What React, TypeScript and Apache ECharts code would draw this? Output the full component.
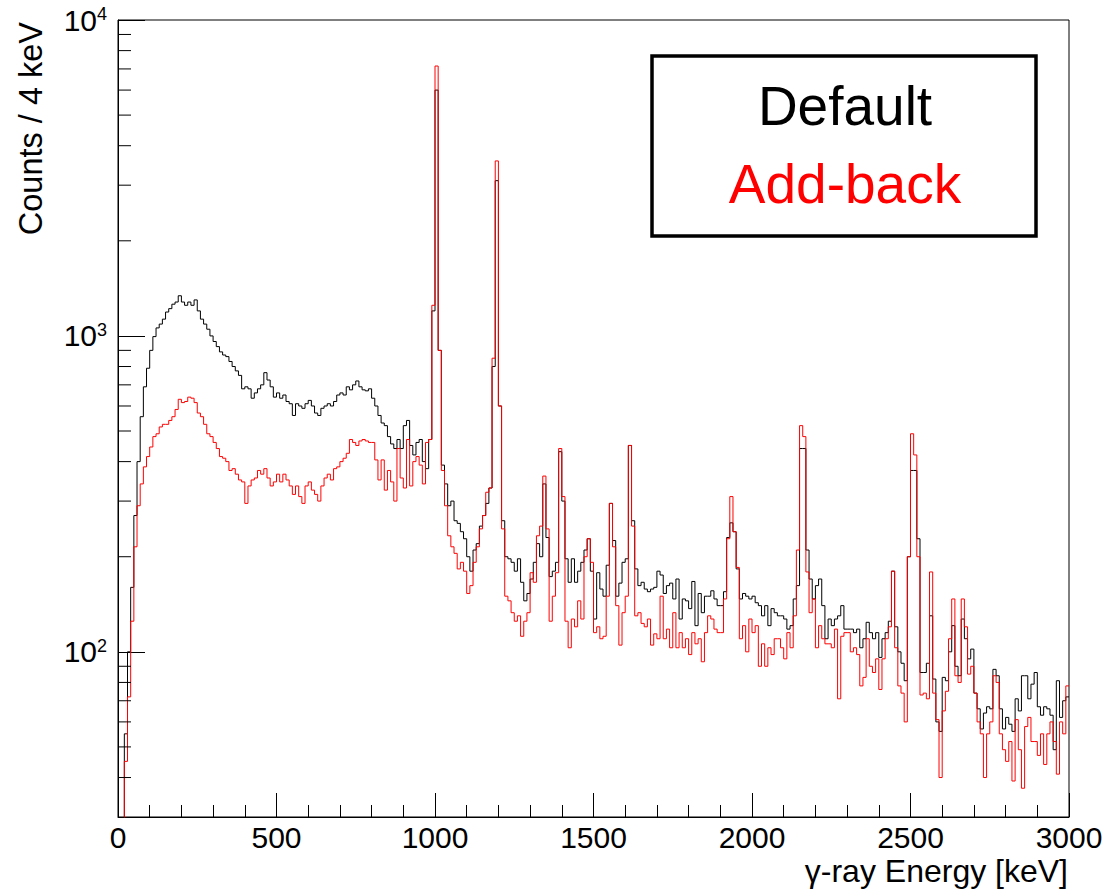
import React, { useEffect, useRef } from "react";
import * as echarts from "echarts";

// Spectrum: counts per bin, bins of 10 keV starting at 0 keV (values read at the "Counts / 4 keV" level)
const binWidth = 10;
const energyMax = 3000;

const defaultCounts = [
  1, 1, 55, 100, 160, 270, 400, 555, 690, 790,
  900, 995, 1060, 1090, 1130, 1190, 1220, 1260, 1280, 1340,
  1280, 1250, 1280, 1250, 1300, 1200, 1130, 1090, 1050, 1000,
  960, 925, 890, 870, 860, 830, 800, 775, 750, 680,
  690, 680, 635, 660, 680, 700, 765, 725, 690, 640,
  660, 635, 650, 620, 610, 560, 610, 600, 590, 610,
  625, 600, 570, 560, 590, 600, 610, 600, 620, 650,
  660, 650, 690, 675, 700, 720, 690, 675, 670, 680,
  635, 600, 560, 530, 520, 480, 455, 440, 470, 440,
  520, 540, 450, 420, 460, 470, 400, 380, 470, 1200,
  6000, 900, 390, 340, 290, 300, 260, 255, 240, 228,
  200, 180, 210, 220, 250, 270, 295, 330, 800, 3100,
  600, 260, 200, 197, 192, 180, 197, 166, 145, 153,
  170, 192, 220, 200, 340, 230, 173, 180, 192, 430,
  300, 197, 166, 197, 166, 180, 192, 210, 228, 180,
  127, 178, 158, 150, 188, 295, 225, 150, 165, 192,
  197, 450, 260, 183, 162, 166, 158, 155, 158, 160,
  180, 175, 153, 162, 165, 147, 170, 127, 147, 145,
  137, 167, 121, 153, 133, 150, 150, 156, 147, 140,
  140, 155, 230, 256, 240, 183, 147, 153, 150, 147,
  150, 143, 140, 130, 140, 121, 137, 133, 130, 130,
  127, 118, 121, 147, 162, 440, 440, 210, 170, 147,
  162, 170, 140, 110, 127, 121, 127, 130, 140, 118,
  118, 118, 115, 118, 103, 110, 124, 115, 110, 115,
  96, 110, 115, 125, 180, 120, 100, 92, 81, 200,
  375, 375, 228, 86, 86, 92, 130, 82, 60, 56,
  83, 81, 100, 121, 90, 84, 127, 110, 95, 102,
  74, 66, 57, 64, 67, 66, 88, 84, 66, 57,
  62, 59, 56, 71, 65, 84, 84, 71, 79, 86,
  67, 63, 67, 66, 63, 49, 81, 62, 70, 72,
];

const addbackCounts = [
  1, 1, 45, 72, 125, 215, 290, 340, 385, 415,
  445, 480, 490, 515, 525, 525, 540, 555, 585, 630,
  615, 620, 640, 635, 615, 570, 555, 525, 490, 480,
  460, 440, 415, 410, 400, 375, 380, 365, 350, 345,
  295, 335, 350, 355, 375, 365, 380, 355, 335, 345,
  365, 345, 365, 350, 335, 315, 335, 310, 295, 335,
  345, 325, 315, 300, 335, 355, 365, 350, 380, 385,
  400, 410, 425, 470, 460, 450, 465, 470, 465, 460,
  460, 405, 350, 405, 325, 375, 345, 300, 440, 355,
  330, 470, 335, 400, 415, 390, 340, 460, 470, 1250,
  7150, 900, 375, 290, 233, 215, 205, 183, 192, 180,
  153, 162, 192, 215, 245, 270, 320, 330, 850, 3580,
  600, 245, 150, 145, 133, 125, 130, 112, 125, 133,
  178, 166, 233, 250, 360, 245, 125, 150, 178, 440,
  310, 125, 103, 127, 120, 145, 127, 200, 228, 192,
  115, 120, 110, 112, 150, 295, 215, 140, 105, 133,
  150, 450, 250, 130, 133, 123, 120, 127, 105, 114,
  110, 150, 110, 118, 103, 133, 103, 115, 103, 110,
  98, 115, 106, 110, 93, 115, 130, 127, 118, 115,
  115, 147, 228, 310, 240, 185, 110, 121, 100, 127,
  115, 121, 90, 106, 90, 103, 98, 110, 110, 103,
  95, 115, 103, 130, 210, 520, 480, 179, 133, 147,
  103, 121, 110, 106, 106, 103, 118, 71, 112, 115,
  115, 100, 103, 98, 78, 83, 110, 90, 86, 95,
  76, 95, 110, 120, 180, 103, 78, 74, 60, 200,
  490, 420, 200, 73, 74, 71, 179, 74, 61, 40,
  65, 75, 110, 147, 84, 80, 147, 120, 85, 90,
  74, 60, 55, 40, 55, 60, 84, 80, 55, 49,
  45, 52, 39, 61, 49, 37, 58, 62, 52, 52,
  47, 55, 44, 55, 60, 52, 41, 60, 55, 78,
];

const yMin = 30;
const yMax = 10000;
const yMinorTicks = [40, 50, 60, 70, 80, 90, 200, 300, 400, 500, 600, 700, 800, 900, 2000, 3000, 4000, 5000, 6000, 7000, 8000, 9000];
const legendLabels = ["Default", "Add-back"];
const seriesColors = ["#000000", "#ff0000"];

const FONT = "'Liberation Sans', Arial, Helvetica, sans-serif";

function toHist(counts: number[]) {
  const pts: [number, number][] = counts.map((v, i) => [i * binWidth, v]);
  pts.push([energyMax, counts[counts.length - 1]]);
  return pts;
}

export default function App() {
  const ref = useRef<HTMLDivElement>(null);

  useEffect(() => {
    if (!ref.current) return;
    const chart = echarts.init(ref.current, undefined, { renderer: "svg" });
    const option: any = {
      animation: false,
      backgroundColor: "#ffffff",
      grid: {
        left: 118,
        top: 20,
        right: 51,
        bottom: 72,
        show: true,
        borderColor: "#000",
        borderWidth: 1,
        backgroundColor: "transparent",
      },
      xAxis: {
        type: "value",
        min: 0,
        max: energyMax,
        interval: 500,
        axisLine: { show: true, lineStyle: { color: "#000", width: 1 } },
        axisTick: { show: true, inside: true, length: 24, lineStyle: { color: "#000", width: 1 } },
        minorTick: { show: true, splitNumber: 5, length: 12, lineStyle: { color: "#000", width: 1 } },
        splitLine: { show: false },
        minorSplitLine: { show: false },
        axisLabel: {
          color: "#000",
          fontSize: 30,
          fontFamily: FONT,
          margin: 5,
          formatter: (v: number) => String(v),
        },
      },
      yAxis: {
        type: "log",
        logBase: 10,
        min: yMin,
        max: yMax,
        axisLine: { show: true, lineStyle: { color: "#000", width: 1 } },
        axisTick: { show: true, inside: true, length: 27, lineStyle: { color: "#000", width: 1 } },
        splitLine: { show: false },
        axisLabel: {
          color: "#000",
          fontSize: 30,
          fontFamily: FONT,
          margin: 11,
          formatter: (v: number) => {
            const e = Math.round(Math.log10(v));
            if (Math.abs(Math.pow(10, e) - v) > 1e-6 * v) return "";
            return `{b|10}{s|${e}}`;
          },
          rich: {
            b: { fontSize: 30, fontFamily: FONT, color: "#000", lineHeight: 30 },
            s: { fontSize: 18, fontFamily: FONT, color: "#000", verticalAlign: "top", lineHeight: 18 },
          },
        },
      },
      series: [
        {
          name: legendLabels[0],
          type: "line",
          step: "end",
          data: toHist(defaultCounts),
          showSymbol: false,
          symbol: "none",
          lineStyle: { color: seriesColors[0], width: 1 },
          itemStyle: { color: seriesColors[0] },
          clip: true,
          z: 2,
        },
        {
          name: legendLabels[1],
          type: "line",
          step: "end",
          data: toHist(addbackCounts),
          showSymbol: false,
          symbol: "none",
          lineStyle: { color: seriesColors[1], width: 1 },
          itemStyle: { color: seriesColors[1] },
          clip: true,
          z: 3,
        },
        {
          type: "custom",
          coordinateSystem: "cartesian2d",
          silent: true,
          data: yMinorTicks.map((v) => [0, v]),
          renderItem: (params: any, api: any) => {
            const p = api.coord([0, api.value(1)]);
            return {
              type: "line",
              shape: { x1: p[0], y1: p[1], x2: p[0] + 13, y2: p[1] },
              style: { stroke: "#000", lineWidth: 1 },
            };
          },
          z: 4,
        },
      ],
      graphic: [
        {
          type: "text",
          x: 31,
          y: 22,
          rotation: Math.PI / 2,
          style: {
            text: "Counts / 4 keV",
            fontSize: 32.5,
            fontFamily: FONT,
            fill: "#000",
            textAlign: "right",
            textVerticalAlign: "middle",
          },
        },
        {
          type: "text",
          x: 1068,
          y: 871,
          style: {
            text: "γ-ray Energy [keV]",
            fontSize: 32,
            fontFamily: FONT,
            fill: "#000",
            textAlign: "right",
            textVerticalAlign: "middle",
          },
        },
        {
          type: "rect",
          shape: { x: 652, y: 56, width: 384, height: 180 },
          style: { fill: "#ffffff", stroke: "#000", lineWidth: 3.5 },
          z: 10,
        },
        {
          type: "text",
          x: 845,
          y: 106,
          z: 11,
          style: {
            text: legendLabels[0],
            fontSize: 55,
            fontFamily: FONT,
            fill: seriesColors[0],
            textAlign: "center",
            textVerticalAlign: "middle",
          },
        },
        {
          type: "text",
          x: 845,
          y: 184,
          z: 11,
          style: {
            text: legendLabels[1],
            fontSize: 55,
            fontFamily: FONT,
            fill: seriesColors[1],
            textAlign: "center",
            textVerticalAlign: "middle",
          },
        },
      ],
    };
    chart.setOption(option);
    return () => chart.dispose();
  }, []);

  return (
    <div
      ref={ref}
      style={{ position: "fixed", left: 0, top: 0, width: 1120, height: 889, background: "#fff" }}
    />
  );
}
